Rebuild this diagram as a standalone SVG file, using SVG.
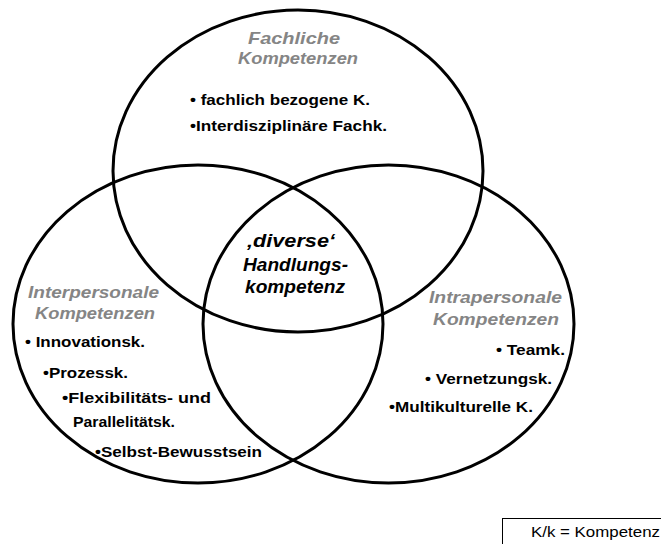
<svg xmlns="http://www.w3.org/2000/svg" width="661" height="544" viewBox="0 0 661 544">
<style>
.ring{fill:none;stroke:#000;stroke-width:3}
.head{font-family:"Liberation Sans",Arial,sans-serif;font-weight:bold;font-style:italic;font-size:17px;fill:#858585}
.item{font-family:"Liberation Sans",Arial,sans-serif;font-weight:bold;font-size:15px;fill:#000}
.core{font-family:"Liberation Sans",Arial,sans-serif;font-weight:bold;font-style:italic;font-size:18px;fill:#000}
.legend{font-family:"Liberation Sans",Arial,sans-serif;font-size:14px;fill:#000}
</style>
<rect width="661" height="544" fill="#fff"/>
<g id="rings">
<ellipse id="ring-fach" class="ring" cx="298" cy="171" rx="185" ry="161"/>
<ellipse id="ring-inter" class="ring" cx="198" cy="324" rx="185" ry="159"/>
<ellipse id="ring-intra" class="ring" cx="388.5" cy="324" rx="185.5" ry="159"/>
</g>
<g id="node-fachlich">
<text class="head" x="248" y="44" textLength="92" lengthAdjust="spacingAndGlyphs">Fachliche</text>
<text class="head" x="238" y="64" textLength="120" lengthAdjust="spacingAndGlyphs">Kompetenzen</text>
<text class="item" x="190" y="105" textLength="180" lengthAdjust="spacingAndGlyphs">• fachlich bezogene K.</text>
<text class="item" x="190" y="131" textLength="197" lengthAdjust="spacingAndGlyphs">•Interdisziplinäre Fachk.</text>
</g>
<g id="node-center">
<text class="core" x="247" y="247" textLength="88" lengthAdjust="spacingAndGlyphs">‚diverse‘</text>
<text class="core" x="243" y="271" textLength="105" lengthAdjust="spacingAndGlyphs">Handlungs-</text>
<text class="core" x="245" y="293" textLength="100" lengthAdjust="spacingAndGlyphs">kompetenz</text>
</g>
<g id="node-interpersonal">
<text class="head" x="28" y="298" textLength="131" lengthAdjust="spacingAndGlyphs">Interpersonale</text>
<text class="head" x="35" y="319" textLength="120" lengthAdjust="spacingAndGlyphs">Kompetenzen</text>
<text class="item" x="25" y="347" textLength="120" lengthAdjust="spacingAndGlyphs">• Innovationsk.</text>
<text class="item" x="43" y="378" textLength="85" lengthAdjust="spacingAndGlyphs">•Prozessk.</text>
<text class="item" x="62" y="403" textLength="149" lengthAdjust="spacingAndGlyphs">•Flexibilitäts- und</text>
<text class="item" x="73" y="427" textLength="102" lengthAdjust="spacingAndGlyphs">Parallelitätsk.</text>
<text class="item" x="95" y="457" textLength="167" lengthAdjust="spacingAndGlyphs">•Selbst-Bewusstsein</text>
</g>
<g id="node-intrapersonal">
<text class="head" x="429" y="303" textLength="133" lengthAdjust="spacingAndGlyphs">Intrapersonale</text>
<text class="head" x="433" y="325" textLength="126" lengthAdjust="spacingAndGlyphs">Kompetenzen</text>
<text class="item" x="496" y="355" textLength="69" lengthAdjust="spacingAndGlyphs">• Teamk.</text>
<text class="item" x="425" y="384" textLength="127" lengthAdjust="spacingAndGlyphs">• Vernetzungsk.</text>
<text class="item" x="389" y="412" textLength="144" lengthAdjust="spacingAndGlyphs">•Multikulturelle K.</text>
</g>
<g id="legend">
<rect x="502.5" y="518.5" width="170" height="40" fill="none" stroke="#000" stroke-width="1"/>
<text class="legend" x="531" y="537" textLength="129" lengthAdjust="spacingAndGlyphs">K/k = Kompetenz</text>
</g>
</svg>
